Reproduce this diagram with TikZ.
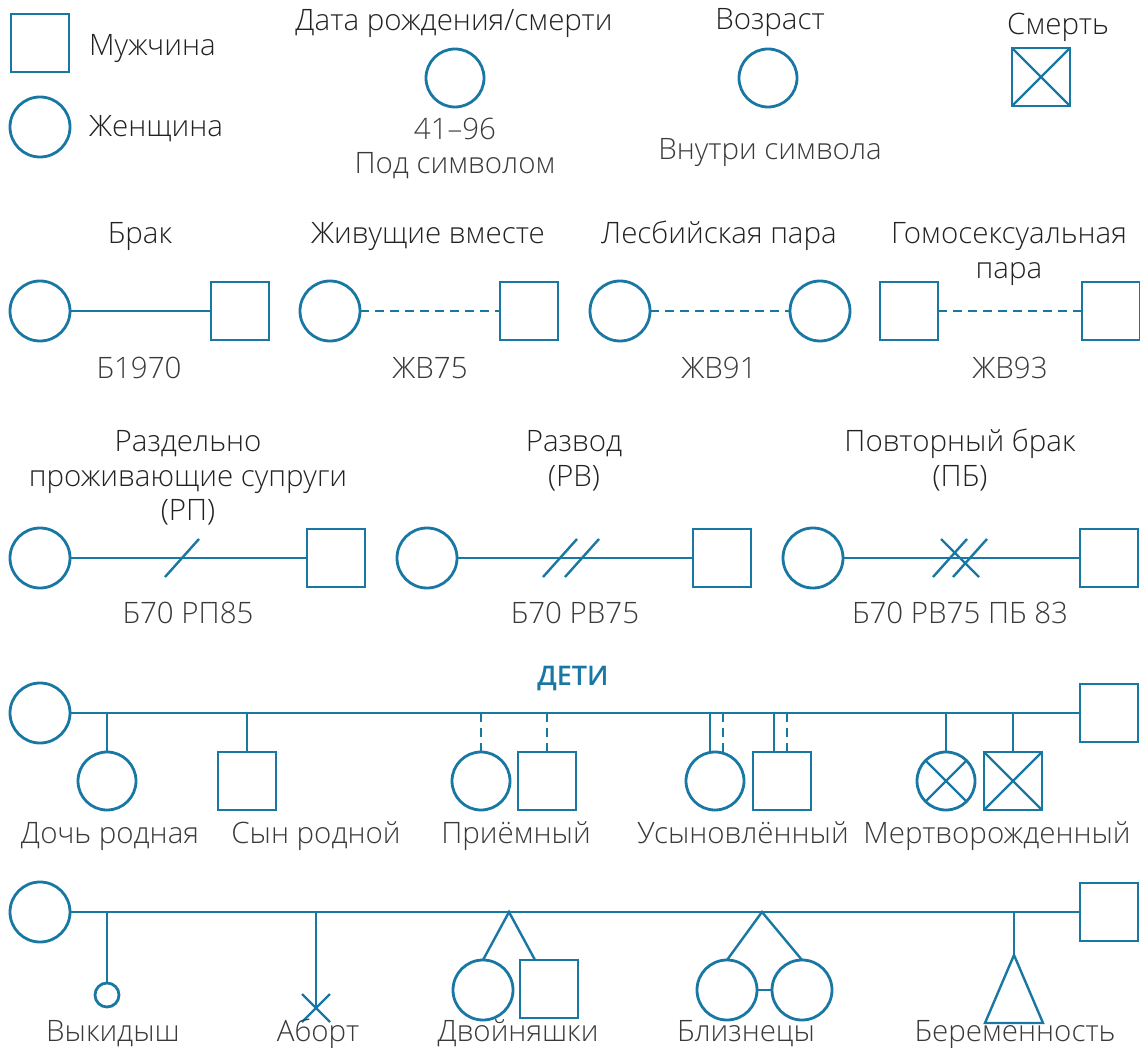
\documentclass[tikz,border=0pt]{standalone}
\usepackage{fontspec}
\setmainfont{Open Sans}[UprightFont={* Light}, BoldFont={* Semibold}]
\usetikzlibrary{calc}

\definecolor{gblue}{HTML}{1878A3}
\definecolor{gtext}{HTML}{222222}
\definecolor{glabel}{HTML}{3A3A3A}

\tikzset{
  sym/.style={draw=gblue, line width=2.8, inner sep=0, outer sep=0},
  male/.style={sym, rectangle, minimum size=58},
  female/.style={sym, circle, minimum size=60},
  tiny/.style={sym, circle, minimum size=24},
  ttl/.style={text=gtext, font=\fontsize{29.5}{35}\selectfont, inner sep=0, anchor=base},
  lbl/.style={text=glabel, font=\fontsize{29.5}{35}\selectfont, inner sep=0, anchor=base},
  rel/.style={gblue, line width=2.4},
  relcoh/.style={rel, dash pattern=on 9 off 6},
}

\begin{document}
\begin{tikzpicture}[x=1pt, y=-1pt]
	\useasboundingbox (0,0) rectangle (1140,1048);
	% legend
	\node[male] (m0) at (40,43) {};
	\node[ttl, anchor=base west] (m0t) at (89,56) {Мужчина};
	\node[female] (f0) at (40,127) {};
	\node[ttl, anchor=base west] (f0t) at (89,137) {Женщина};
	\node[ttl] (datet) at (454,31) {Дата рождения/смерти};
	\node[female, minimum size=58] (datef) at (455,78) {};
	\node[lbl] (datey) at (455,140) {41--96};
	\node[lbl] (dateu) at (455,174) {Под символом};
	\node[ttl] (aget) at (770,30) {Возраст};
	\node[female, minimum size=58] (agef) at (768,78) {};
	\node[lbl] (ageu) at (770,160) {Внутри символа};
	\node[ttl] (deatht) at (1058,35) {Смерть};
	\node[male] (death) at (1041,77) {};
	\draw[rel] (death.north west) -- (death.south east) (death.north east) -- (death.south west);
	% couples
	\node[ttl] (brt) at (140,244) {Брак};
	\node[female] (brf) at (40,311) {};
	\node[male] (brm) at (240,311) {};
	\draw[rel] (brf) -- (brm);
	\node[lbl] (brl) at (139,378) {Б1970};
	\node[ttl] (cot) at (428,244) {Живущие вместе};
	\node[female] (cof) at (330,311) {};
	\node[male] (com) at (529,311) {};
	\draw[relcoh] (cof) -- (com);
	\node[lbl] (col) at (430,378) {ЖВ75};
	\node[ttl] (lpt) at (719,244) {Лесбийская пара};
	\node[female] (lpa) at (620,311) {};
	\node[female] (lpb) at (820,311) {};
	\draw[relcoh] (lpa) -- (lpb);
	\node[lbl] (lpl) at (719,378) {ЖВ91};
	\node[ttl] (gpt) at (1009,244) {Гомосексуальная};
	\node[ttl] (gpt2) at (1009,279) {пара};
	\node[male] (gpa) at (909,311) {};
	\node[male] (gpb) at (1111,311) {};
	\draw[relcoh] (gpa) -- (gpb);
	\node[lbl] (gpl) at (1010,378) {ЖВ93};
	% separation, divorce
	\node[ttl] (rpt) at (188,451) {Раздельно};
	\node[ttl] (rpt2) at (188,486) {проживающие супруги};
	\node[ttl] (rpt3) at (188,520) {(РП)};
	\node[female] (rpf) at (40,558) {};
	\node[male] (rpm) at (336,558) {};
	\draw[rel] (rpf) -- (rpm);
	\coordinate (rpx) at (182,558);
	\draw[rel] ([shift={(-17,19)}]rpx) -- ([shift={(17,-19)}]rpx);
	\node[lbl] (rpl) at (188,623) {Б70 РП85};
	\node[ttl] (rvt) at (574,451) {Развод};
	\node[ttl] (rvt2) at (574,486) {(РВ)};
	\node[female] (rvf) at (427,558) {};
	\node[male] (rvm) at (722,558) {};
	\draw[rel] (rvf) -- (rvm);
	\coordinate (rvx) at (560,558);
	\coordinate (rvy) at (582,558);
	\draw[rel] ([shift={(-17,19)}]rvx) -- ([shift={(17,-19)}]rvx);
	\draw[rel] ([shift={(-17,19)}]rvy) -- ([shift={(17,-19)}]rvy);
	\node[lbl] (rvl) at (575,623) {Б70 РВ75};
	\node[ttl] (pbt) at (960,451) {Повторный брак};
	\node[ttl] (pbt2) at (960,486) {(ПБ)};
	\node[female] (pbf) at (813,558) {};
	\node[male] (pbm) at (1109,558) {};
	\draw[rel] (pbf) -- (pbm);
	\coordinate (pbx) at (950,558);
	\coordinate (pby) at (970,558);
	\coordinate (pbz) at (960,558);
	\draw[rel] ([shift={(-17,19)}]pbx) -- ([shift={(17,-19)}]pbx);
	\draw[rel] ([shift={(-17,19)}]pby) -- ([shift={(17,-19)}]pby);
	\draw[rel] ([shift={(-19,-19)}]pbz) -- ([shift={(19,19)}]pbz);
	\node[lbl] (pbl) at (960,623) {Б70 РВ75 ПБ 83};
	% children
	\node[ttl, text=gblue, font=\fontsize{27}{30}\selectfont\bfseries] (kidst) at (573,685) {ДЕТИ};
	\node[female] (kf) at (40,713) {};
	\node[male] (km) at (1109,713) {};
	\draw[rel] (kf) -- (km);
	\node[female, minimum size=58] (c1) at (107,781) {};
	\node[male] (c2) at (247,781) {};
	\node[female, minimum size=58] (c3) at (481,781) {};
	\node[male] (c4) at (547,781) {};
	\node[female, minimum size=58] (c5) at (715,781) {};
	\node[male] (c6) at (782,781) {};
	\node[female, minimum size=58] (c7) at (946,781) {};
	\node[male] (c8) at (1013,781) {};
	\draw[rel] (c7.north west) -- (c7.south east) (c7.north east) -- (c7.south west);
	\draw[rel] (c8.north west) -- (c8.south east) (c8.north east) -- (c8.south west);
	\draw[rel] (c1 |- kf) -- (c1);
	\draw[rel] (c2 |- kf) -- (c2);
	\draw[relcoh] (c3 |- kf) -- ([yshift=-4]c3.north);
	\draw[relcoh] (c4 |- kf) -- ([yshift=-4]c4.north);
	\coordinate (k5a) at (710,713);
	\coordinate (k5b) at (723,713);
	\coordinate (k6a) at (774,713);
	\coordinate (k6b) at (787,713);
	\draw[rel] (k5a) -- (k5a |- c5.north);
	\draw[relcoh] (k5b) -- ([yshift=-4]k5b |- c5.north);
	\draw[rel] (k6a) -- (k6a |- c6.north);
	\draw[relcoh] (k6b) -- ([yshift=-4]k6b |- c6.north);
	\draw[rel] (c7 |- kf) -- (c7);
	\draw[rel] (c8 |- kf) -- (c8);
	\node[lbl] (c1l) at (110,843) {Дочь родная};
	\node[lbl] (c2l) at (316,843) {Сын родной};
	\node[lbl] (c3l) at (516,843) {Приёмный};
	\node[lbl] (c5l) at (743,843) {Усыновлённый};
	\node[lbl] (c7l) at (997,843) {Мертворожденный};
	% pregnancies
	\node[female] (qf) at (40,912) {};
	\node[male] (qm) at (1109,912) {};
	\draw[rel] (qf) -- (qm);
	\node[tiny] (q1) at (107,995) {};
	\draw[rel] (q1 |- qf) -- (q1);
	\coordinate (q2) at (316,1008);
	\draw[rel] (q2 |- qf) -- (q2);
	\draw[rel] ([shift={(-14,-14)}]q2) -- ([shift={(14,14)}]q2) ([shift={(14,-14)}]q2) -- ([shift={(-14,14)}]q2);
	\coordinate (tw1) at (509,912);
	\node[female] (q3) at (483,990) {};
	\node[male] (q4) at (549,989) {};
	\draw[rel] (q3.north) -- (tw1) -- ([xshift=-14]q4.north);
	\coordinate (tw2) at (762,912);
	\node[female] (q5) at (727,990) {};
	\node[female] (q6) at (802,990) {};
	\draw[rel] (q5.north) -- (tw2) -- (q6.north);
	\draw[rel] (q5) -- (q6);
	\coordinate (q7) at (1014,955);
	\draw[rel] (q7 |- qf) -- (q7);
	\draw[rel, line join=miter] (q7) -- ++(-29,68) -- ++(58,0) -- cycle;
	\node[lbl] (q1l) at (113,1041) {Выкидыш};
	\node[lbl] (q2l) at (318,1041) {Аборт};
	\node[lbl] (q3l) at (518,1041) {Двойняшки};
	\node[lbl] (q5l) at (746,1041) {Близнецы};
	\node[lbl] (q7l) at (1015,1041) {Беременность};
\end{tikzpicture}
\end{document}
